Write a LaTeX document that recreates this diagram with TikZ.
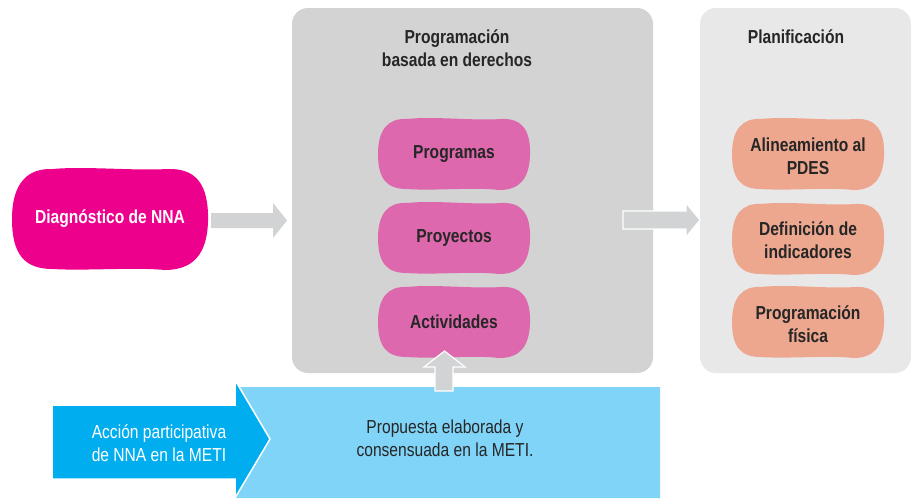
\documentclass[tikz,border=0pt]{standalone}
\usepackage{fontspec}
\setmainfont{Liberation Sans}[FakeStretch=0.83]
\definecolor{txt}{HTML}{262626}
\definecolor{panelA}{HTML}{D3D3D3}
\definecolor{panelB}{HTML}{E8E8E8}
\definecolor{arrowgray}{HTML}{D1D3D4}
\definecolor{pinkA}{HTML}{DE68AD}
\definecolor{magentaA}{HTML}{EC008C}
\definecolor{salmonA}{HTML}{EDA78F}
\definecolor{blueA}{HTML}{00AEEF}
\definecolor{blueB}{HTML}{80D4F7}
% #1,#2 centre; #3,#4 half width/height; #5 colour
\newcommand\myblob[5]{%
\begin{scope}[shift={(#1,#2)}]
\fill[#5] ({-#3},0)
 .. controls ({-#3},{-0.7*#4}) and ({-#3+0.3*#4},{-#4}) .. ({-#3+0.8*#4},{-#4+1})
 .. controls ({-0.25*#3},{-#4-2}) and ({0.25*#3},{-#4+3}) .. ({#3-0.8*#4},{-#4+1})
 .. controls ({#3-0.25*#4},{-#4}) and ({#3+1},{-0.7*#4}) .. ({#3},{0.05*#4})
 .. controls ({#3-1},{0.7*#4}) and ({#3-0.3*#4},{#4}) .. ({#3-0.85*#4},{#4})
 .. controls ({0.25*#3},{#4-3}) and ({-0.25*#3},{#4+1}) .. ({-#3+0.8*#4},{#4-1})
 .. controls ({-#3+0.25*#4},{#4-1}) and ({-#3},{0.7*#4}) .. cycle;
\end{scope}}
\begin{document}
\begin{tikzpicture}[x=1pt,y=-1pt,
  lbl/.style={font=\bfseries\fontsize{18.8}{23}\selectfont, text=txt, align=center, inner sep=0pt},
  plain/.style={font=\fontsize{18.8}{23}\selectfont, text=txt, align=center, inner sep=0pt},
  blockarrow/.style={fill=arrowgray, draw=white, line width=1.2pt, line join=miter}]
\useasboundingbox (0,0) rectangle (912,498);
% panels
\fill[panelA, rounded corners=16pt] (292,8) rectangle (653,373);
\fill[panelB, rounded corners=16pt] (700,8) rectangle (911,373);
\node[lbl] (t1) at (457,48) {Programación\\basada en derechos};
\node[lbl] (t2) at (796,37) {Planificación};
% left blob
\myblob{110}{219}{98}{51}{magentaA}
\node[lbl, text=white] (diag) at (110,219) {Diagnóstico de NNA};
% pink blobs
\myblob{454}{154}{76}{36}{pinkA}
\myblob{454}{238}{76}{36}{pinkA}
\myblob{454}{322}{76}{36}{pinkA}
\node[lbl] (prog) at (454,154) {Programas};
\node[lbl] (proy) at (454,238) {Proyectos};
\node[lbl] (act) at (454,322) {Actividades};
% salmon blobs
\myblob{808}{154}{76}{36}{salmonA}
\myblob{808}{239}{76}{36}{salmonA}
\myblob{808}{322}{76}{36}{salmonA}
\node[lbl] (ali) at (808,156) {Alineamiento al\\PDES};
\node[lbl] (def) at (808,240) {Definición de\\indicadores};
\node[lbl] (pfis) at (808,324) {Programación\\física};
% gray block arrows
\fill[arrowgray] (211,213) -- (273,213) -- (273,203) -- (287,220.5) -- (273,238) -- (273,228) -- (211,228) -- cycle;
\draw[blockarrow] (623,211) -- (686,211) -- (686,203) -- (700,220) -- (686,237) -- (686,229) -- (623,229) -- cycle;
% light blue box
\fill[blueB] (240,387) -- (660,387) -- (660,498) -- (236,498) -- cycle;
\node[plain] (prop) at (445,438) {Propuesta elaborada y\\consensuada en la METI.};
% up arrow
\draw[blockarrow] (435,391) -- (435,367) -- (424,367) -- (444.5,351) -- (465,367) -- (453,367) -- (453,391) -- cycle;
% dark blue arrow
\draw[fill=blueA, draw=white, line width=1.5pt] (52,405) -- (235,405) -- (235,380) -- (270,439) -- (235,498) -- (235,479) -- (52,479) -- cycle;
\node[plain, text=white] (acc) at (159,443) {Acción participativa\\de NNA en la METI};
\end{tikzpicture}
\end{document}
